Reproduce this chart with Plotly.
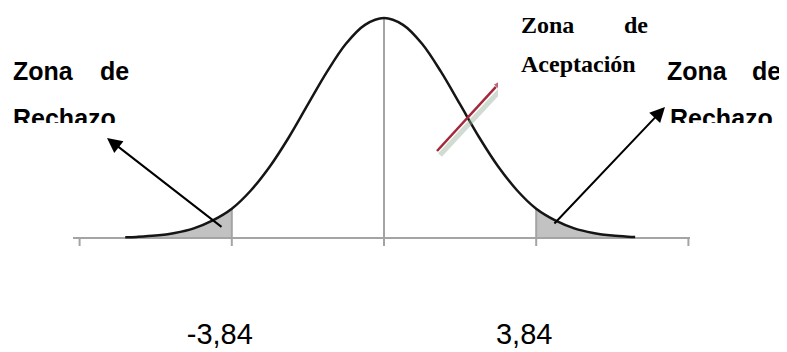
import plotly.graph_objects as go

# normal curve (z in sigma units, height relative to the peak)
curve_z = [-3.4, -3.25, -3.0, -2.75, -2.5, -2.25, -2.0, -1.75, -1.5, -1.25, -1.0, -0.75, -0.5, -0.25,
           0.0, 0.25, 0.5, 0.75, 1.0, 1.25, 1.5, 1.75, 2.0, 2.25, 2.5, 2.75, 3.0, 3.25, 3.3]
curve_h = [0.003, 0.005, 0.011, 0.023, 0.044, 0.080, 0.133, 0.216, 0.325, 0.458, 0.607, 0.755, 0.883, 0.969,
           1.0, 0.969, 0.883, 0.755, 0.607, 0.458, 0.325, 0.216, 0.133, 0.080, 0.044, 0.023, 0.011, 0.005, 0.004]

tick_z = [-4, -2, 0, 2, 4]
crit_z = [-2.0, 2.0]
crit_labels = ["-3,84", "3,84"]

# the page body has an 8px margin, so the figure is a bit smaller than the window
OFF = 8
W, H = 787 - OFF, 352 - OFF
X0, XS = 384, 76.1   # screen pixel of z=0, pixels per sigma
Y0, YS = 238, 220    # screen pixel of the baseline, pixels per unit height


def dx(p):
    return (p - X0) / XS


def dy(p):
    return (Y0 - p) / YS


def px(p):
    return (p - OFF) / W


def py(p):
    return 1 - (p - OFF) / H


GRAY = "#a4a4a4"
ARIAL = "Liberation Sans"
TIMES = "Liberation Serif"

fig = go.Figure()

# shaded rejection tails
left_tail = [(z, h) for z, h in zip(curve_z, curve_h) if z <= crit_z[0]]
right_tail = [(z, h) for z, h in zip(curve_z, curve_h) if z >= crit_z[1]]
for tail in (left_tail, right_tail):
    fig.add_trace(go.Scatter(
        x=[t[0] for t in tail], y=[t[1] for t in tail],
        mode="lines", line=dict(width=0, shape="spline"),
        fill="tozeroy", fillcolor="#c2c2c2", hoverinfo="skip"
    ))

# horizontal axis and ticks
fig.add_trace(go.Scatter(x=[dx(73), dx(690)], y=[0, 0], mode="lines",
                         line=dict(color=GRAY, width=2), hoverinfo="skip"))
for t in tick_z:
    top = 0
    if t == 0:
        top = max(curve_h)
    elif t in crit_z:
        top = curve_h[curve_z.index(t)]
    fig.add_trace(go.Scatter(x=[t, t], y=[dy(246), top], mode="lines",
                             line=dict(color=GRAY, width=2), hoverinfo="skip"))

# the bell curve
fig.add_trace(go.Scatter(x=curve_z, y=curve_h, mode="lines",
                         line=dict(color="#151515", width=2.5, shape="spline"), hoverinfo="skip"))

# red arrow (with its soft shadow) pointing at the acceptance label
fig.add_trace(go.Scatter(x=[dx(440), dx(506)], y=[dy(155), dy(84)], mode="lines",
                         line=dict(color="rgba(150,175,155,0.45)", width=5), hoverinfo="skip"))
fig.add_trace(go.Scatter(x=[dx(437), dx(503)], y=[dy(151), dy(79)], mode="lines+markers",
                         line=dict(color="#a3283a", width=2.5),
                         marker=dict(symbol=["circle", "arrow"], size=[0, 11], color="#a3283a",
                                     angleref="previous"),
                         hoverinfo="skip"))

# Arial bold labels (drawn as traces so the text box edge can clip them)
arial_words = [("Zona", 13, 74), ("de", 100, 74), ("Rechazo", 13, 121),
               ("Zona", 667, 74), ("de", 752, 74), ("Rechazo", 670, 121)]
for word, x_px, y_px in arial_words:
    fig.add_trace(go.Scatter(x=[dx(x_px)], y=[dy(y_px)], mode="text", text=[word],
                             textposition="middle right",
                             textfont=dict(family=ARIAL, size=25, color="black", weight="bold"),
                             hoverinfo="skip"))

# critical values under the axis
for z, lab in zip(crit_z, crit_labels):
    fig.add_trace(go.Scatter(x=[z + dx(220) - dx(232)], y=[dy(337)], mode="text", text=[lab],
                             textposition="middle center",
                             textfont=dict(family=ARIAL, size=29, color="black"),
                             hoverinfo="skip"))

# white text-box edges that clip the labels and the red arrow
shapes = [
    dict(type="rect", xref="paper", yref="paper", x0=px(OFF), x1=px(140), y0=py(137), y1=py(123)),
    dict(type="rect", xref="paper", yref="paper", x0=px(668), x1=px(787), y0=py(137), y1=py(123)),
    dict(type="rect", xref="paper", yref="paper", x0=px(498), x1=px(660), y0=py(106), y1=py(OFF)),
]
for s in shapes:
    s.update(layer="above", fillcolor="white", line=dict(width=0))

annotations = []
# Times bold acceptance label, above the clipping box
for word, x_px, y_px in [("Zona", 519, 25), ("de", 622, 25), ("Aceptación", 519, 64)]:
    annotations.append(dict(text=word, xref="paper", yref="paper", x=px(x_px), y=py(y_px),
                            xanchor="left", yanchor="middle", showarrow=False,
                            font=dict(family=TIMES, size=24, color="black", weight="bold")))

# black arrows to the rejection tails
for head, tail in [((107, 138), (223, 228)), ((665, 107), (553, 225))]:
    annotations.append(dict(text="", xref="paper", yref="paper", x=px(head[0]), y=py(head[1]),
                            ax=tail[0] - head[0], ay=tail[1] - head[1], showarrow=True,
                            arrowhead=2, arrowsize=1.5, arrowwidth=2, arrowcolor="black", standoff=0))

fig.update_layout(
    width=W, height=H,
    margin=dict(l=0, r=0, t=0, b=0),
    paper_bgcolor="white", plot_bgcolor="white",
    showlegend=False,
    xaxis=dict(range=[dx(OFF), dx(787)], visible=False),
    yaxis=dict(range=[dy(352), dy(OFF)], visible=False),
    shapes=shapes,
    annotations=annotations,
)

fig.write_html("out.html")
